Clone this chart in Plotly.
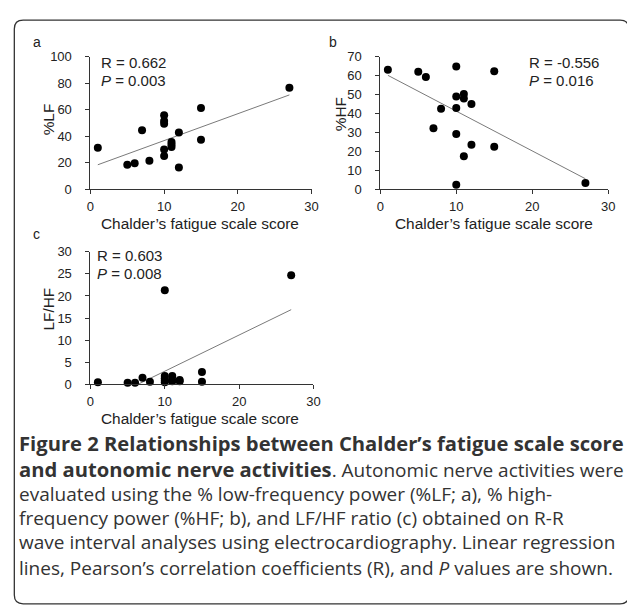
import numpy as np
import plotly.graph_objects as go

# ---------------- data ----------------
score = [1, 5, 6, 7, 8, 10, 10, 10, 10, 10, 11, 11, 11, 12, 12, 15, 15, 27]
pct_lf = [31.4, 18.6, 19.6, 44.6, 21.6, 55.9, 51.5, 49.5, 30.1, 25.2,
          35.8, 33.8, 31.9, 42.9, 16.4, 61.3, 37.5, 76.7]
pct_hf = [63.1, 62.1, 59.3, 32.2, 42.5, 64.8, 49.0, 42.9, 29.2, 2.4,
          50.4, 48.0, 17.5, 45.1, 23.5, 62.3, 22.5, 3.3]
lf_hf = [0.5, 0.4, 0.4, 1.5, 0.6, 21.3, 1.9, 1.4, 0.9, 0.5,
         1.9, 0.9, 0.7, 1.0, 0.7, 2.8, 0.6, 24.7]

x_ticks = [0, 10, 20, 30]
stats_a = ["R = 0.662", "<i>P</i> = 0.003"]
stats_b = ["R = -0.556", "<i>P</i> = 0.016"]
stats_c = ["R = 0.603", "<i>P</i> = 0.008"]
x_title = "Chalder’s fatigue scale score"

BOLD = '<span style="font-size:20.2px"><b>{}</b></span>'
caption_lines = [
    BOLD.format("Figure 2 Relationships between Chalder’s fatigue scale score"),
    BOLD.format("and autonomic nerve activities") + ". Autonomic nerve activities were",
    "evaluated using the % low-frequency power (%LF; a), % high-",
    "frequency power (%HF; b), and LF/HF ratio (c) obtained on R-R",
    "wave interval analyses using electrocardiography. Linear regression",
    "lines, Pearson’s correlation coefficients (R), and <i>P</i> values are shown.",
]

# ---------------- layout helpers ----------------
W, H = 627, 605


def fx(p):
    return p / W


def fy(p):
    return 1 - p / H


AX_FONT = "Liberation Sans, Arial, sans-serif"
CAP_FONT = "Open Sans, Noto Sans, sans-serif"
TXT = "#222222"

fig = go.Figure()

panels = [
    ("x", "y", pct_lf),
    ("x2", "y2", pct_hf),
    ("x3", "y3", lf_hf),
]

xs = np.array(score, dtype=float)
for xa, ya, yv in panels:
    ys = np.array(yv, dtype=float)
    m, b = np.polyfit(xs, ys, 1)
    lx = np.array([xs.min(), xs.max()])
    fig.add_trace(go.Scatter(x=lx, y=m * lx + b, mode="lines",
                             line=dict(color="#7a7a7a", width=1),
                             xaxis=xa, yaxis=ya, hoverinfo="skip",
                             showlegend=False))
    fig.add_trace(go.Scatter(x=score, y=yv, mode="markers",
                             marker=dict(color="black", size=8),
                             xaxis=xa, yaxis=ya, cliponaxis=False,
                             showlegend=False))

axis_common = dict(showline=True, linecolor="#333333", linewidth=1,
                   ticks="outside", ticklen=4, tickcolor="#333333",
                   showgrid=False, zeroline=False, fixedrange=True,
                   tickfont=dict(family=AX_FONT, size=13, color=TXT))
xa_common = dict(range=[0, 30], tickvals=x_ticks, ticklabelstandoff=1, **axis_common)
ya_common = dict(ticklabelstandoff=11, **axis_common)

fig.update_layout(
    width=W, height=H,
    margin=dict(l=0, r=0, t=0, b=0),
    paper_bgcolor="white", plot_bgcolor="white",
    showlegend=False,
    xaxis=dict(domain=[fx(88), fx(313)], anchor="y", **xa_common),
    yaxis=dict(domain=[fy(187), fy(51)], range=[0, 100], dtick=20, anchor="x", **ya_common),
    xaxis2=dict(domain=[fx(383), fx(615)], anchor="y2", **xa_common),
    yaxis2=dict(domain=[fy(187), fy(51)], range=[0, 70], dtick=10, anchor="x2", **ya_common),
    xaxis3=dict(domain=[fx(88), fx(315)], anchor="y3", **xa_common),
    yaxis3=dict(domain=[fy(387), fy(251)], range=[0, 30], dtick=5, anchor="x3", **ya_common),
)

ann = []


def text(x, y, s, size=15, anchor="left", angle=0, family=AX_FONT, color=TXT):
    ann.append(dict(x=fx(x), y=fy(y), xref="paper", yref="paper", text=s,
                    showarrow=False, xanchor=anchor, yanchor="middle",
                    textangle=angle, font=dict(family=family, size=size, color=color)))


# panel letters
text(34, 36, "a", 14, "center")
text(335, 36, "b", 14, "center")
text(33, 233, "c", 14, "center")

# stats
text(97, 57, stats_a[0]); text(97, 75, stats_a[1])
text(532, 57, stats_b[0]); text(532, 75, stats_b[1])
text(93, 255, stats_c[0]); text(93, 273, stats_c[1])

# axis titles
text(199, 222, x_title, 15.4, "center")
text(499, 222, x_title, 15.4, "center")
text(200, 422, x_title, 15.4, "center")
text(45, 115, "%LF", 15.4, "center", -90)
text(342, 110, "%HF", 15.4, "center", -90)
text(45, 310, "LF/HF", 15.4, "center", -90)

# caption
cap_y = [447, 474, 499, 524, 549, 575]
for yy, line in zip(cap_y, caption_lines):
    text(13, yy, line, 19.0, "left", family=CAP_FONT, color="#333333")

fig.update_layout(annotations=ann)

# rounded border frame
x0, y0, x1, y1, r = 10.5, 13.5, 636, 612, 9


def P(x, y):
    return f"{fx(x):.5f},{fy(y):.5f}"


path = (f"M {P(x0, y0 + r)} Q {P(x0, y0)} {P(x0 + r, y0)} "
        f"L {P(x1 - r, y0)} Q {P(x1, y0)} {P(x1, y0 + r)} "
        f"L {P(x1, y1 - r)} Q {P(x1, y1)} {P(x1 - r, y1)} "
        f"L {P(x0 + r, y1)} Q {P(x0, y1)} {P(x0, y1 - r)} Z")
fig.add_shape(type="path", path=path, xref="paper", yref="paper",
              line=dict(color="#333333", width=1.3), layer="below")

fig.write_html("out.html", config={"displayModeBar": False},
               post_script="document.body.style.margin='0';document.body.style.overflow='hidden';")
